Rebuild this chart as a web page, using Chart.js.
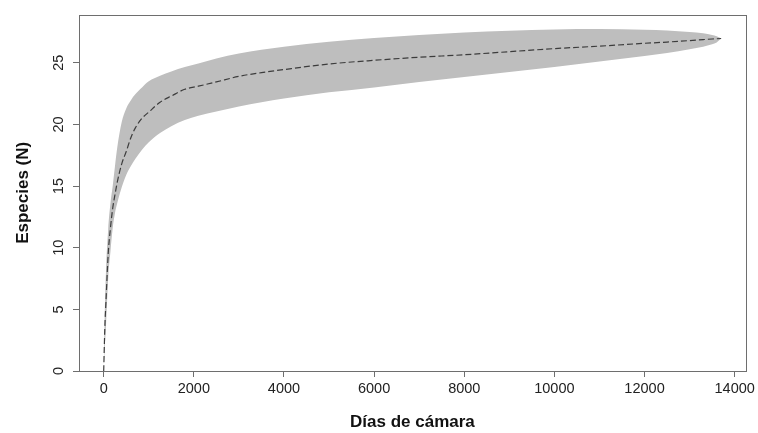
<!DOCTYPE html>
<html>
<head>
<meta charset="utf-8">
<script src="https://cdn.jsdelivr.net/npm/chart.js@4/dist/chart.umd.min.js"></script>
<style>
html,body{margin:0;padding:0;background:#fff;}
#wrap{width:758px;height:433px;position:relative;}
</style>
</head>
<body>
<div id="wrap"><canvas id="c" width="758" height="433"></canvas></div>
<script>
// Días de cámara (x)
const days = [0, 25, 50, 100, 150, 200, 250, 300, 400, 500, 600, 700, 850, 1000, 1250, 1500, 1800, 2100, 2500, 3000, 3500, 4000, 5000, 6000, 7000, 8000, 9000, 10000, 11000, 12000, 12500, 13000, 13300, 13500, 13600, 13700];
// Mean species accumulation
const meanSpecies = [0, 3.5, 5.6, 9.5, 11.6, 13.2, 14.3, 15.3, 16.8, 17.8, 18.9, 19.7, 20.5, 21.0, 21.8, 22.3, 22.85, 23.1, 23.45, 23.9, 24.2, 24.45, 24.9, 25.2, 25.45, 25.65, 25.9, 26.15, 26.35, 26.58, 26.68, 26.8, 26.88, 26.93, 26.95, 26.97];
// Upper confidence limit
const upperCI = [0, 5, 8, 11.5, 13.6, 15.0, 16.6, 18.1, 20.2, 21.3, 21.95, 22.45, 23.0, 23.5, 23.95, 24.3, 24.65, 24.95, 25.35, 25.75, 26.05, 26.3, 26.7, 27.0, 27.25, 27.45, 27.6, 27.7, 27.73, 27.68, 27.62, 27.5, 27.4, 27.25, 27.15, 26.97];
// Lower confidence limit
const lowerCI = [0, 2, 3.5, 7.5, 9.7, 11.6, 12.8, 13.6, 14.9, 15.9, 16.6, 17.2, 17.95, 18.55, 19.3, 19.85, 20.35, 20.7, 21.05, 21.45, 21.8, 22.1, 22.6, 23.0, 23.45, 23.85, 24.25, 24.65, 25.1, 25.55, 25.8, 26.1, 26.3, 26.5, 26.65, 26.97];
// Tick labels
const xTicks = [0, 2000, 4000, 6000, 8000, 10000, 12000, 14000];
const yTicks = [0, 5, 10, 15, 20, 25];

const pts = arr => days.map((d, i) => ({x: d, y: arr[i]}));

const boxPlugin = {
  id: 'box',
  afterDraw(chart) {
    const a = chart.chartArea, ctx = chart.ctx;
    ctx.save();
    ctx.strokeStyle = '#6e6e6e';
    ctx.lineWidth = 1;
    ctx.strokeRect(Math.round(a.left) + 0.5, Math.round(a.top) + 0.5, Math.round(a.right - a.left), Math.round(a.bottom - a.top));
    ctx.restore();
  }
};

const FONT = "'Liberation Sans', Arial, sans-serif";

new Chart(document.getElementById('c'), {
  type: 'line',
  data: {
    datasets: [
      {
        label: 'upper', data: pts(upperCI), borderWidth: 0, pointRadius: 0,
        backgroundColor: '#bebebe', fill: '+1', order: 2,
        cubicInterpolationMode: 'monotone'
      },
      {
        label: 'lower', data: pts(lowerCI), borderWidth: 0, pointRadius: 0,
        backgroundColor: '#bebebe', fill: false, order: 2,
        cubicInterpolationMode: 'monotone'
      },
      {
        label: 'mean', data: pts(meanSpecies), borderColor: '#3c3c3c', borderWidth: 1.2,
        borderDash: [6, 3], pointRadius: 0, fill: false, order: 0,
        cubicInterpolationMode: 'monotone'
      }
    ]
  },
  plugins: [boxPlugin],
  options: {
    responsive: false,
    animation: false,
    events: [],
    layout: { padding: { top: 8, right: 10, left: 0, bottom: 0 } },
    plugins: { legend: { display: false }, tooltip: { enabled: false } },
    scales: {
      x: {
        type: 'linear', min: -548, max: 14247,
        afterBuildTicks: s => { s.ticks = xTicks.map(v => ({value: v})); },
        afterFit: s => { s.height = 62; },
        grid: { drawOnChartArea: false, drawTicks: true, tickLength: 6, color: '#6e6e6e', lineWidth: 1 },
        border: { display: false },
        ticks: { color: '#222', font: { family: FONT, size: 14.5 }, padding: 3, maxRotation: 0, autoSkip: false, callback: v => String(v) },
        title: { display: true, text: 'Días de cámara', color: '#111', font: { family: FONT, size: 17, weight: 'bold' }, padding: { top: 7, bottom: 0 } }
      },
      y: {
        type: 'linear', min: 0, max: 28.9,
        afterBuildTicks: s => { s.ticks = yTicks.map(v => ({value: v})); },
        afterFit: s => { s.width = 79; },
        grid: { drawOnChartArea: false, drawTicks: true, tickLength: 6, color: '#6e6e6e', lineWidth: 1 },
        border: { display: false },
        ticks: { color: '#222', font: { family: FONT, size: 14.5 }, padding: 6, minRotation: 90, maxRotation: 90, crossAlign: 'center', autoSkip: false, callback: v => String(v) },
        title: { display: true, text: 'Especies (N)', color: '#111', font: { family: FONT, size: 17, weight: 'bold' }, padding: { top: 13, bottom: 2 } }
      }
    }
  }
});
</script>
</body>
</html>
